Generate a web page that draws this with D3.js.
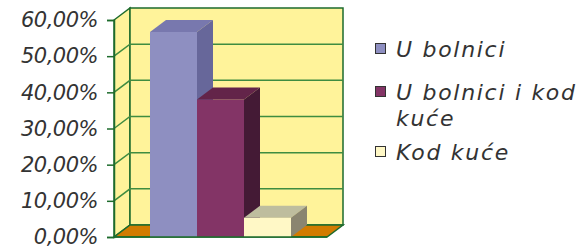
<!DOCTYPE html>
<html>
<head>
<meta charset="utf-8">
<script src="https://cdn.jsdelivr.net/npm/d3@7"></script>
<style>
  body { margin: 0; background: #fff; }
  text { font-family: "DejaVu Sans", sans-serif; font-style: italic; fill: #333; }
</style>
</head>
<body>
<svg id="chart" width="579" height="249"></svg>
<script>
// series names and their values (share of answers)
const seriesNames = ["U bolnici", "U bolnici i kod kuće", "Kod kuće"];
const seriesValues = [0.567, 0.38, 0.053];
const tickValues = [0, 0.1, 0.2, 0.3, 0.4, 0.5, 0.6];

// colours for each series: front, top, side
const frontColors = ["#8E8FC1", "#833466", "#FFF8C6"];
const topColors = ["#7878AE", "#632449", "#BEBD9E"];
const sideColors = ["#67679A", "#441A35", "#8A8570"];

const svg = d3.select("#chart");

// depth offset of the 3d box
const dx = 16, dy = -12;
const frontLeft = 114, frontRight = 327;

const y = d3.scaleLinear().domain([0, 0.6]).range([237, 20]);
const x = d3.scaleBand().domain(seriesNames).range([150, 291]).padding(0);

const wallFill = "#FFF39A";
const gridColor = "#3F8C40";
const frameColor = "#1D6B2C";

const poly = pts => "M" + pts.map(p => p.join(",")).join("L") + "Z";

// left side wall
svg.append("path")
  .attr("d", poly([[frontLeft, y(0)], [frontLeft, y(0.6)], [frontLeft + dx, y(0.6) + dy], [frontLeft + dx, y(0) + dy]]))
  .attr("fill", wallFill)
  .attr("stroke", frameColor)
  .attr("stroke-width", 1.5);

// back wall
svg.append("rect")
  .attr("x", frontLeft + dx)
  .attr("y", y(0.6) + dy)
  .attr("width", frontRight - frontLeft)
  .attr("height", y(0) - y(0.6))
  .attr("fill", wallFill)
  .attr("stroke", frameColor)
  .attr("stroke-width", 1.5);

// gridlines on walls
tickValues.slice(1, -1).forEach(t => {
  svg.append("path")
    .attr("d", `M${frontLeft},${y(t)}L${frontLeft + dx},${y(t) + dy}L${frontRight + dx},${y(t) + dy}`)
    .attr("fill", "none")
    .attr("stroke", gridColor)
    .attr("stroke-width", 1.5);
});

// floor
svg.append("path")
  .attr("d", poly([[frontLeft, y(0)], [frontRight, y(0)], [frontRight + dx, y(0) + dy], [frontLeft + dx, y(0) + dy]]))
  .attr("fill", "#D27B00")
  .attr("stroke", frameColor)
  .attr("stroke-width", 1.5);

// bars
seriesNames.forEach((name, i) => {
  const x0 = x(name), x1 = x0 + x.bandwidth();
  const yt = y(seriesValues[i]), yb = y(0);
  const g = svg.append("g");
  g.append("path")
    .attr("d", poly([[x0, yb], [x0, yt], [x1, yt], [x1, yb]]))
    .attr("fill", frontColors[i]);
  g.append("path")
    .attr("d", poly([[x0, yt], [x0 + dx, yt + dy], [x1 + dx, yt + dy], [x1, yt]]))
    .attr("fill", topColors[i]);
  g.append("path")
    .attr("d", poly([[x1, yb], [x1, yt], [x1 + dx, yt + dy], [x1 + dx, yb + dy]]))
    .attr("fill", sideColors[i]);
});

// front axis
const axis = d3.axisLeft(y)
  .tickValues(tickValues)
  .tickSize(7)
  .tickPadding(9)
  .tickFormat(d => d3.format(".2f")(d * 100).replace(".", ",") + "%");

const axisG = svg.append("g")
  .attr("transform", `translate(${frontLeft},0)`)
  .call(axis);
axisG.select(".domain").attr("stroke", frameColor).attr("stroke-width", 1.5);
axisG.selectAll(".tick line").attr("stroke", frameColor).attr("stroke-width", 1.5);
axisG.selectAll(".tick text")
  .attr("font-size", 21)
  .attr("letter-spacing", -0.5)
  .attr("font-family", "DejaVu Sans")
  .attr("font-style", "italic")
  .attr("fill", "#333")
  .attr("dy", "0.32em");

// front baseline
svg.append("line")
  .attr("x1", frontLeft).attr("x2", frontRight)
  .attr("y1", y(0)).attr("y2", y(0))
  .attr("stroke", frameColor).attr("stroke-width", 1.5);

// legend
const legendLines = [["U bolnici"], ["U bolnici i kod", "kuće"], ["Kod kuće"]];
const legendY = [57, 100, 160];
const legend = svg.append("g");
legendLines.forEach((lines, i) => {
  legend.append("rect")
    .attr("x", 375.5).attr("y", legendY[i] - 13.5)
    .attr("width", 10).attr("height", 10)
    .attr("fill", frontColors[i])
    .attr("stroke", "#333").attr("stroke-width", 1);
  const t = legend.append("text")
    .attr("x", 396).attr("y", legendY[i])
    .attr("font-size", 22)
    .attr("letter-spacing", 1.7);
  lines.forEach((l, j) => {
    t.append("tspan").attr("x", 396).attr("dy", j === 0 ? 0 : 26).text(l);
  });
});
</script>
</body>
</html>
